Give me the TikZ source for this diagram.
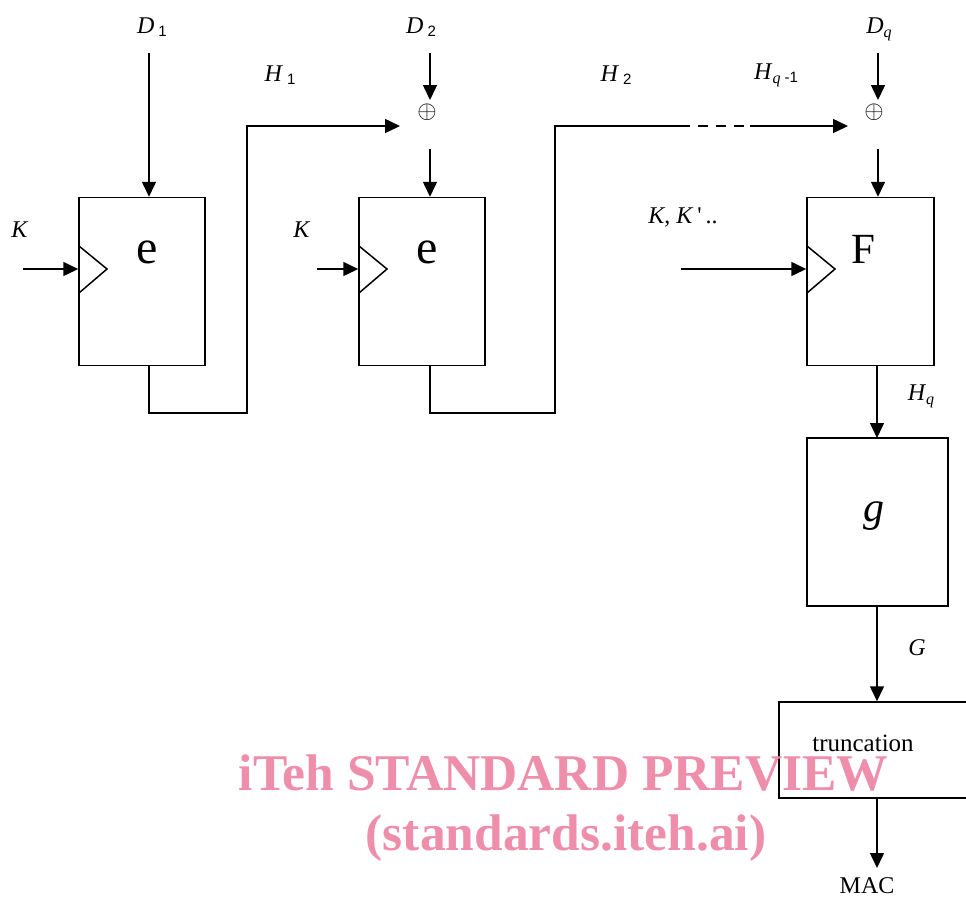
\documentclass[tikz,border=0pt]{standalone}
\usepackage{fontspec}
\setmainfont{Liberation Serif}
\newfontfamily\arialf{Liberation Sans}
\newfontfamily\rawserif{Liberation Serif}
\usetikzlibrary{arrows.meta,calc}
\definecolor{wmpink}{RGB}{238,142,170}
\newcommand{\subsf}[1]{\raisebox{-3pt}{\arialf\fontsize{15}{18}\selectfont #1}}
\newcommand{\subit}[1]{\raisebox{-4pt}{\fontsize{16}{18}\selectfont\itshape #1}}
\begin{document}
\begin{tikzpicture}[x=1pt,y=-1pt,
  line width=1.5pt,
  arr/.style={-{Triangle[length=15pt,width=14pt]}},
  blk/.style={draw,rectangle,inner sep=0pt,minimum width=126pt,minimum height=168pt},
  lbl/.style={inner sep=0pt,font=\fontsize{24}{28}\selectfont},
  big/.style={inner sep=0pt,font=\fontsize{48}{54}\selectfont},
  wm/.style={inner sep=0pt,anchor=base west,text=wmpink,font=\fontsize{51.5}{60}\selectfont\bfseries}
]
\useasboundingbox (0,0) rectangle (966,898);
% blocks
\node[blk] (b1) at (142,281.5) {};
\node[blk] (b2) at (422,281.5) {};
\node[blk,minimum width=127pt] (bF) at (870.5,281.5) {};
\node[blk,minimum width=141pt] (bg) at (877.5,522) {};
\node[draw,rectangle,inner sep=0pt,minimum width=200pt,minimum height=96pt] (bt) at (879,750) {};
% block texts
\node[big] (te1) at (147,252) {e};
\node[big] (te2) at (427,252) {e};
\node[big,font=\fontsize{43}{50}\selectfont] (tF) at (863,249) {F};
\node[big,font=\fontsize{42}{50}\selectfont\itshape] (tg) at (874,516) {g};
\node[inner sep=0pt,font=\fontsize{25}{30}\selectfont] (tt) at (863,743) {truncation};
% clock triangles
\draw (79,246) -- (107,269) -- (79,293);
\draw (359,246) -- (387,269) -- (359,293);
\draw (807,246) -- (835,269) -- (807,293);
% labels
\node[lbl] (D1) at (152,27) {\textit{D}\,\subsf{1}};
\node[lbl] (D2) at (421,27) {\textit{D}\,\subsf{2}};
\node[lbl] (Dq) at (879,29) {\textit{D}\subit{q}};
\node[lbl] (H1) at (280,75) {\textit{H}\,\subsf{1}};
\node[lbl] (H2) at (616,75) {\textit{H}\,\subsf{2}};
\node[lbl] (Hq1) at (776,75) {\textit{H}\subit{q}\,\subsf{-1}};
\node[lbl] (K1) at (20,230) {\textit{K}};
\node[lbl] (K2) at (302,230) {\textit{K}};
\node[lbl] (KK) at (683,217) {\textit{K}, \textit{K}\,{\rawserif '}\,..};
\node[lbl] (Hq) at (921,396) {\textit{H}\subit{q}};
\node[lbl] (G) at (917,648) {\textit{G}};
\node[lbl] (MAC) at (867,886) {MAC};
% xor
\node[inner sep=0pt,font=\fontsize{25}{28}\selectfont] (x2) at (427,112) {$\oplus$};
\node[inner sep=0pt,font=\fontsize{25}{28}\selectfont] (xq) at (874,112) {$\oplus$};
% free ends
\coordinate (d1s) at (149,53);
\coordinate (d2s) at (430,53);
\coordinate (d2e) at (430,100);
\coordinate (x2o) at (430,149);
\coordinate (dqs) at (878,53);
\coordinate (dqe) at (878,100);
\coordinate (xqo) at (878,149);
\coordinate (k1s) at (23,269);
\coordinate (k2s) at (317,269);
\coordinate (kqs) at (681,269);
\coordinate (h1e) at (400,126);
\coordinate (h2a) at (680,126);
\coordinate (h2b) at (750,126);
\coordinate (hqe) at (848,126);
\coordinate (gs) at (877,606);
\coordinate (ts) at (877,798);
\coordinate (macE) at (877,868);
% connectors
\draw[arr] (d1s) -- (d1s |- b1.north);
\draw[arr] (d2s) -- (d2e);
\draw[arr] (x2o) -- (x2o |- b2.north);
\draw[arr] (dqs) -- (dqe);
\draw[arr] (xqo) -- (xqo |- bF.north);
\draw[arr] (k1s) -- (k1s -| b1.west);
\draw[arr] (k2s) -- (k2s -| b2.west);
\draw[arr] (kqs) -- (kqs -| bF.west);
\draw[arr] (d1s |- b1.south) -- (149,413) -- (247,413) -- (247,126) -- (h1e);
\draw (x2o |- b2.south) -- (430,413) -- (555,413) -- (555,126) -- (h2a);
\draw[dash pattern=on 10pt off 8pt] (h2a) -- (h2b);
\draw[arr] (h2b) -- (hqe);
\draw[arr] (877,366) -- (877,438);
\draw[arr] (gs) -- (gs |- bt.north);
\draw[arr] (ts) -- (macE);
% watermark
\node[wm] (wm1) at (238,790) {iTeh STANDARD PREVIEW};
\node[wm] (wm2) at (365,850) {(standards.iteh.ai)};
\end{tikzpicture}
\end{document}
